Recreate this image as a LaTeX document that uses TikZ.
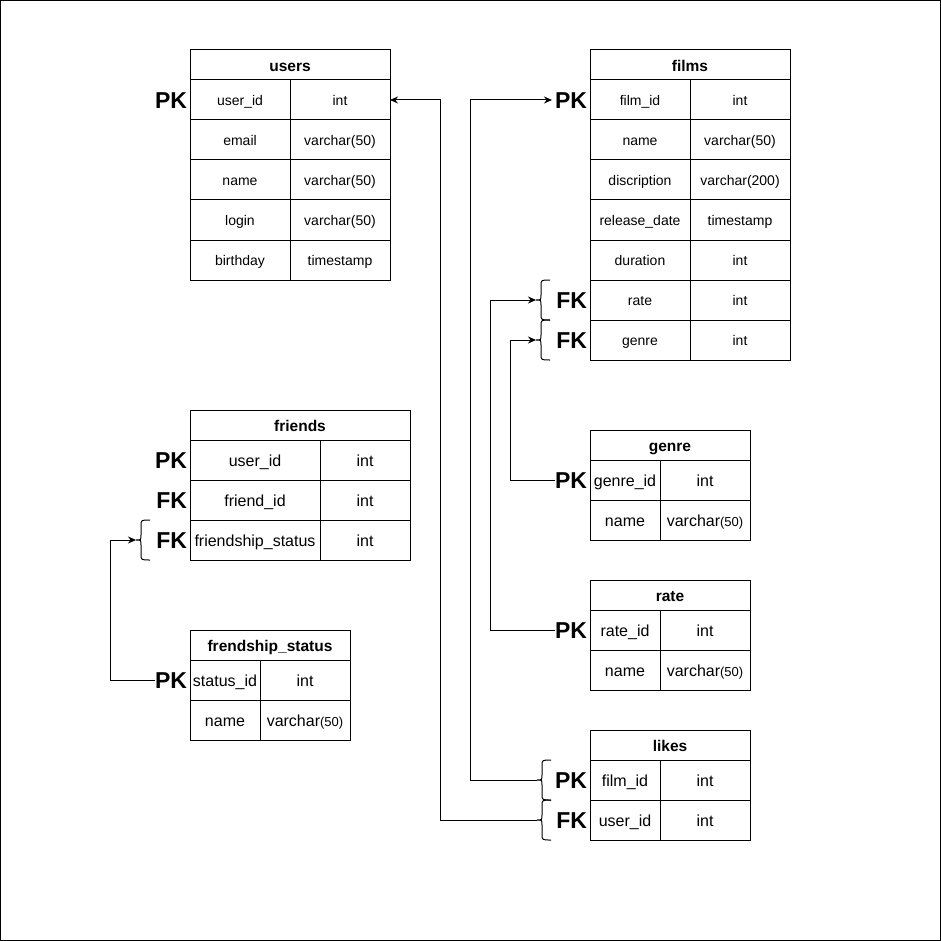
\documentclass[tikz,border=0pt]{standalone}
\usepackage{fontspec}
\setmainfont{Liberation Sans}
\usetikzlibrary{arrows.meta}
\tikzset{
  cellS/.style={draw, line width=1pt, inner sep=0pt, outer sep=0pt, minimum height=40pt, text height=14pt, text depth=3pt, font=\fontsize{14}{16}\selectfont},
  cellL/.style={draw, line width=1pt, inner sep=0pt, outer sep=0pt, minimum height=40pt, text height=15.5pt, text depth=3.5pt, font=\fontsize{16}{18}\selectfont},
  hdr/.style={draw, line width=1pt, inner sep=0pt, outer sep=0pt, minimum height=30pt, text height=17pt, text depth=3.5pt, font=\bfseries\fontsize{15.5}{18}\selectfont},
  keylbl/.style={font=\bfseries\fontsize{23}{26}\selectfont, anchor=east, inner sep=0pt, outer sep=0pt, text height=16.5pt, text depth=0pt},
  link/.style={line width=1pt},
  arr/.style={link, -{Stealth[length=8pt,width=7pt]}},
  bracepath/.style={line width=1pt}
}
\newcommand{\smallp}[1]{{\fontsize{13}{15}\selectfont #1}}
\begin{document}
\begin{tikzpicture}[x=1pt,y=-1pt]
\useasboundingbox (0,0) rectangle (941,941);
\draw[line width=1pt] (0.5,0.5) rectangle (940.5,940.5);

% users
\node[hdr, minimum width=200pt] (uh) at (290,65) {users};
\node[cellS, minimum width=100pt] (u1a) at (240,100) {user\_id};
\node[cellS, minimum width=100pt] (u1b) at (340,100) {int};
\node[cellS, minimum width=100pt] (u2a) at (240,140) {email};
\node[cellS, minimum width=100pt] (u2b) at (340,140) {varchar(50)};
\node[cellS, minimum width=100pt] (u3a) at (240,180) {name};
\node[cellS, minimum width=100pt] (u3b) at (340,180) {varchar(50)};
\node[cellS, minimum width=100pt] (u4a) at (240,220) {login};
\node[cellS, minimum width=100pt] (u4b) at (340,220) {varchar(50)};
\node[cellS, minimum width=100pt] (u5a) at (240,260) {birthday};
\node[cellS, minimum width=100pt] (u5b) at (340,260) {timestamp};
\node[keylbl] (ku) at (187,100) {PK};

% films
\node[hdr, minimum width=200pt] (fh) at (690,65) {films};
\node[cellS, minimum width=100pt] (f1a) at (640,100) {film\_id};
\node[cellS, minimum width=100pt] (f1b) at (740,100) {int};
\node[cellS, minimum width=100pt] (f2a) at (640,140) {name};
\node[cellS, minimum width=100pt] (f2b) at (740,140) {varchar(50)};
\node[cellS, minimum width=100pt] (f3a) at (640,180) {discription};
\node[cellS, minimum width=100pt] (f3b) at (740,180) {varchar(200)};
\node[cellS, minimum width=100pt] (f4a) at (640,220) {release\_date};
\node[cellS, minimum width=100pt] (f4b) at (740,220) {timestamp};
\node[cellS, minimum width=100pt] (f5a) at (640,260) {duration};
\node[cellS, minimum width=100pt] (f5b) at (740,260) {int};
\node[cellS, minimum width=100pt] (f6a) at (640,300) {rate};
\node[cellS, minimum width=100pt] (f6b) at (740,300) {int};
\node[cellS, minimum width=100pt] (f7a) at (640,340) {genre};
\node[cellS, minimum width=100pt] (f7b) at (740,340) {int};
\node[keylbl] (kf) at (587,100) {PK};
\node[keylbl] (kfr) at (587,300) {FK};
\node[keylbl] (kfg) at (587,340) {FK};

% friends
\node[hdr, minimum width=220pt] (frh) at (300,425) {friends};
\node[cellL, minimum width=130pt] (fr1a) at (255,460) {user\_id};
\node[cellL, minimum width=90pt] (fr1b) at (365,460) {int};
\node[cellL, minimum width=130pt] (fr2a) at (255,500) {friend\_id};
\node[cellL, minimum width=90pt] (fr2b) at (365,500) {int};
\node[cellL, minimum width=130pt] (fr3a) at (255,540) {friendship\_status};
\node[cellL, minimum width=90pt] (fr3b) at (365,540) {int};
\node[keylbl] (kfr1) at (187,460) {PK};
\node[keylbl] (kfr2) at (187,500) {FK};
\node[keylbl] (kfr3) at (187,540) {FK};

% frendship_status
\node[hdr, minimum width=160pt] (fsh) at (270,645) {frendship\_status};
\node[cellL, minimum width=70pt] (fs1a) at (225,680) {status\_id};
\node[cellL, minimum width=90pt] (fs1b) at (305,680) {int};
\node[cellL, minimum width=70pt] (fs2a) at (225,720) {name};
\node[cellL, minimum width=90pt] (fs2b) at (305,720) {varchar\smallp{(50)}};
\node[keylbl] (kfs) at (187,680) {PK};

% genre
\node[hdr, minimum width=160pt] (gh) at (670,445) {genre};
\node[cellL, minimum width=70pt] (g1a) at (625,480) {genre\_id};
\node[cellL, minimum width=90pt] (g1b) at (705,480) {int};
\node[cellL, minimum width=70pt] (g2a) at (625,520) {name};
\node[cellL, minimum width=90pt] (g2b) at (705,520) {varchar\smallp{(50)}};
\node[keylbl] (kg) at (587,480) {PK};

% rate
\node[hdr, minimum width=160pt] (rh) at (670,595) {rate};
\node[cellL, minimum width=70pt] (r1a) at (625,630) {rate\_id};
\node[cellL, minimum width=90pt] (r1b) at (705,630) {int};
\node[cellL, minimum width=70pt] (r2a) at (625,670) {name};
\node[cellL, minimum width=90pt] (r2b) at (705,670) {varchar\smallp{(50)}};
\node[keylbl] (kr) at (587,630) {PK};

% likes
\node[hdr, minimum width=160pt] (lh) at (670,745) {likes};
\node[cellL, minimum width=70pt] (l1a) at (625,780) {film\_id};
\node[cellL, minimum width=90pt] (l1b) at (705,780) {int};
\node[cellL, minimum width=70pt] (l2a) at (625,820) {user\_id};
\node[cellL, minimum width=90pt] (l2b) at (705,820) {int};
\node[keylbl] (kl1) at (587,780) {PK};
\node[keylbl] (kl2) at (587,820) {FK};

% braces
\draw[bracepath] (150,520) .. controls (141,520) .. (141,526) -- (141,535) .. controls (141,540) .. (136,540) .. controls (141,540) .. (141,545) -- (141,554) .. controls (141,560) .. (150,560);
\coordinate (bfr) at (136,540);
\draw[bracepath] (550,280) .. controls (541,280) .. (541,286) -- (541,295) .. controls (541,300) .. (536,300) .. controls (541,300) .. (541,305) -- (541,314) .. controls (541,320) .. (550,320);
\coordinate (bra) at (536,300);
\draw[bracepath] (550,320) .. controls (541,320) .. (541,326) -- (541,335) .. controls (541,340) .. (536,340) .. controls (541,340) .. (541,345) -- (541,354) .. controls (541,360) .. (550,360);
\coordinate (bge) at (536,340);
\draw[bracepath] (551,760) .. controls (542,760) .. (542,766) -- (542,775) .. controls (542,780) .. (537,780) .. controls (542,780) .. (542,785) -- (542,794) .. controls (542,800) .. (551,800);
\coordinate (bl1) at (537,780);
\draw[bracepath] (551,800) .. controls (542,800) .. (542,806) -- (542,815) .. controls (542,820) .. (537,820) .. controls (542,820) .. (542,825) -- (542,834) .. controls (542,840) .. (551,840);
\coordinate (bl2) at (537,820);

% junctions
\coordinate (j1) at (440,820);
\coordinate (j2) at (470,780);
\coordinate (j3) at (510,480);
\coordinate (j4) at (490,630);
\coordinate (j5) at (110,680);
\coordinate (tf) at (552,100);

% connectors
\draw[arr] (bl2) -- (j1) |- (u1b.east);
\draw[arr] (bl1) -- (j2) |- (tf);
\draw[arr] (kg.west |- j3) -- (j3) |- (bge);
\draw[arr] (kr.west |- j4) -- (j4) |- (bra);
\draw[arr] (kfs.west |- j5) -- (j5) |- (bfr);
\end{tikzpicture}
\end{document}
